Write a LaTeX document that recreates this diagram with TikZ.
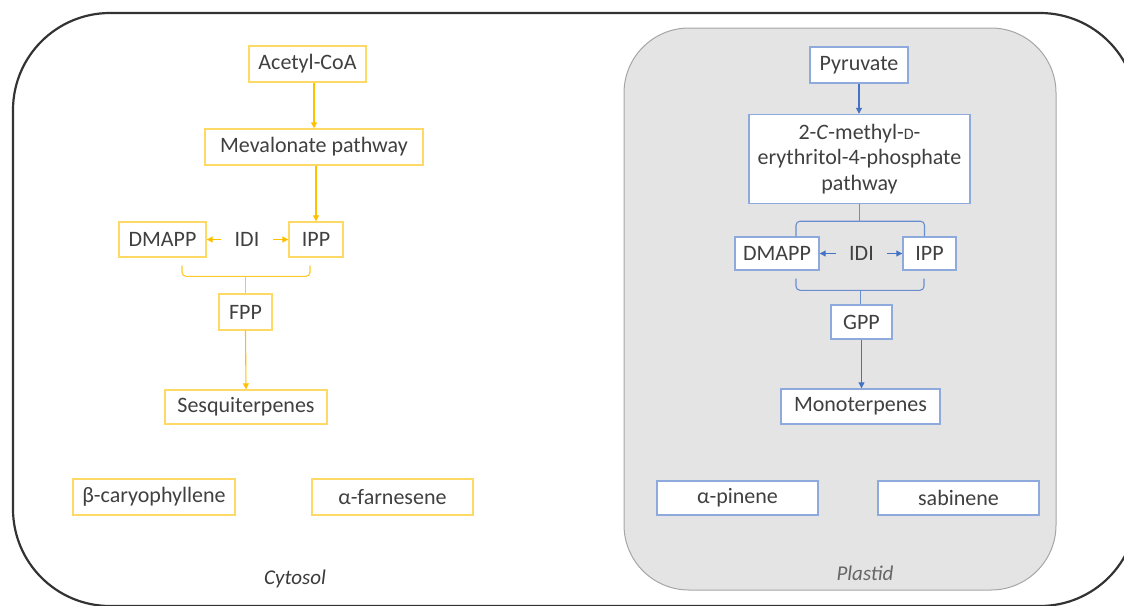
\documentclass[tikz,border=0pt]{standalone}
\usepackage{fontspec}
\setmainfont{Carlito}
\usetikzlibrary{arrows.meta,calc}
\definecolor{txt}{HTML}{404040}
\definecolor{cellline}{HTML}{333333}
\definecolor{plastidfill}{HTML}{E4E4E4}
\definecolor{plastidline}{HTML}{A6A6A6}
\definecolor{ybox}{HTML}{FFD966}
\definecolor{yarr}{HTML}{FFC000}
\definecolor{bbox}{HTML}{8EA9DB}
\definecolor{barr}{HTML}{4472C4}
\tikzset{
  lbl/.style={font=\fontsize{22}{25.5}\selectfont, text=txt},
  ybx/.style={lbl, draw=ybox, line width=1.4pt, fill=white, inner sep=0pt},
  bbx/.style={lbl, draw=bbox, line width=1.4pt, fill=white, inner sep=0pt},
  yar/.style={draw=yarr, line width=1.1pt, -{Triangle[length=6pt,width=6pt]}},
  bar/.style={draw=barr, line width=1.1pt, -{Triangle[length=6pt,width=6pt]}},
  ybr/.style={draw=yarr!85, line width=1.1pt, rounded corners=4pt},
  bbr/.style={draw=barr!80, line width=1.1pt, rounded corners=4pt},
  idi/.style={lbl, inner xsep=13pt, inner ysep=2pt},
  comp/.style={font=\fontsize{21}{25}\selectfont\itshape},
}
\begin{document}
\begin{tikzpicture}[x=1pt,y=-1pt]
\useasboundingbox (0,0) rectangle (1124,605);
% cell outline and plastid compartment
\draw[cellline, line width=2.2pt, rounded corners=97pt] (13,13) rectangle (1137,606);
\draw[plastidline, fill=plastidfill, line width=1pt, rounded corners=65pt] (624,28) rectangle (1056,590);

% ---------- cytosol: mevalonate route ----------
\node[ybx, minimum width=117pt, minimum height=36pt] (acoa) at (307.5,64) {Acetyl-CoA};
\node[ybx, minimum width=218pt, minimum height=36pt] (mva) at (314,147) {Mevalonate pathway};
\node[ybx, minimum width=87pt, minimum height=35pt] (dmappC) at (162.5,239.5) {DMAPP};
\node[idi] (idiC) at (247,239.5) {IDI};
\node[ybx, minimum width=54pt, minimum height=35pt] (ippC) at (316,239.5) {IPP};
\node[ybx, minimum width=53pt, minimum height=36pt] (fpp) at (245.5,312) {FPP};
\node[ybx, minimum width=162pt, minimum height=34pt] (sesq) at (246,407) {Sesquiterpenes};
\node[ybx, minimum width=162pt, minimum height=36pt] (bcar) at (154,497) {β-caryophyllene};
\node[ybx, minimum width=161pt, minimum height=36pt] (afar) at (392.5,497) {α-farnesene};
\node[comp, text=txt!90!black] (cyto) at (295,579) {Cytosol};

\draw[yar] (acoa.south -| mva.north) -- (mva.north);
\draw[yar] (mva.south -| ippC.north) -- (ippC.north);
\draw[yar] (idiC.west) -- (dmappC.east);
\draw[yar] (idiC.east) -- (ippC.west);
\coordinate (cbL) at ([xshift=19.5pt,yshift=-8pt]dmappC.south);
\coordinate (cbR) at ([xshift=-6pt,yshift=-8pt]ippC.south);
\coordinate (cbM) at ($(fpp.north)+(0,-17)$);
\draw[ybr] (cbL) |- (cbM) -| (cbR);
\draw[ybr] (cbM) -- (fpp.north);
\draw[yar] (fpp.south) -- (sesq.north);

% ---------- plastid: MEP route ----------
\node[bbx, minimum width=98pt, minimum height=36pt] (pyr) at (859,65) {Pyruvate};
\node[bbx, minimum width=221pt, minimum height=89pt, align=center] (mep) at (859.5,159)
  {2-\textit{C}-methyl-{\fontsize{16}{16}\selectfont D}-\\erythritol-4-phosphate\\pathway};
\node[bbx, minimum width=84pt, minimum height=33pt] (dmappP) at (777,253.5) {DMAPP};
\node[idi] (idiP) at (861.5,253.5) {IDI};
\node[bbx, minimum width=53pt, minimum height=33pt] (ippP) at (929.5,253.5) {IPP};
\node[bbx, minimum width=61pt, minimum height=34pt] (gpp) at (861.5,322) {GPP};
\node[bbx, minimum width=159pt, minimum height=35pt] (mono) at (860.5,406.5) {Monoterpenes};
\node[bbx, minimum width=161pt, minimum height=34pt] (apin) at (737.5,498) {α-pinene};
\node[bbx, minimum width=161pt, minimum height=34pt] (sabi) at (958.5,498) {sabinene};
\node[comp, text=txt!80] (plast) at (865,573) {Plastid};

\draw[bar] (pyr.south) -- (mep.north -| pyr.south);
\coordinate (ptM) at ($(mep.south)+(0,17)$);
\coordinate (ptL) at ([xshift=19pt]dmappP.north);
\coordinate (ptR) at ([xshift=-5pt]ippP.north);
\draw[bbr] (mep.south) -- (ptM);
\draw[bbr] (ptL) |- (ptM) -| (ptR);
\draw[bar] (idiP.west) -- (dmappP.east);
\draw[bar] (idiP.east) -- (ippP.west);
\coordinate (pbL) at ([xshift=19pt,yshift=-8pt]dmappP.south);
\coordinate (pbR) at ([xshift=-5.5pt,yshift=-8pt]ippP.south);
\coordinate (pbM) at ($(gpp.north)+(-1,-14)$);
\draw[bbr] (pbL) |- (pbM) -| (pbR);
\draw[bbr] (pbM) -- (pbM |- gpp.north);
\draw[bar] (gpp.south) -- (mono.north -| gpp.south);
\end{tikzpicture}
\end{document}
